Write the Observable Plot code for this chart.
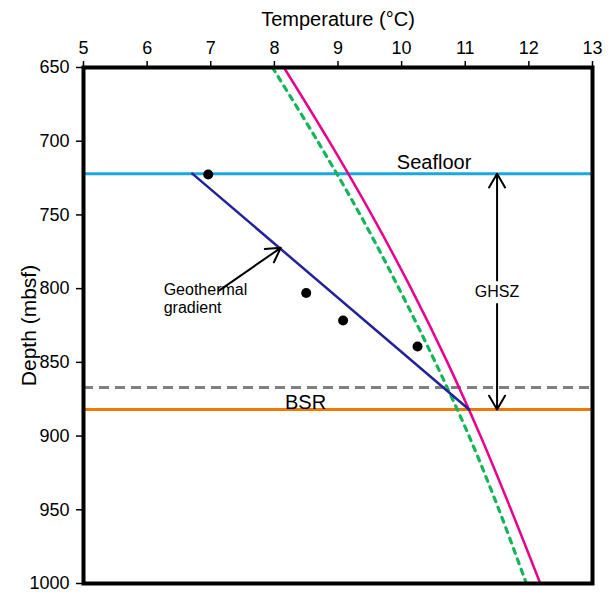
<!DOCTYPE html>
<html>
<head>
<meta charset="utf-8">
<script src="https://cdn.jsdelivr.net/npm/d3@7"></script>
<script src="https://cdn.jsdelivr.net/npm/@observablehq/plot@0.6"></script>
<style>
  html, body { margin: 0; padding: 0; background: #fff; }
  #chart svg { display: block; }
</style>
</head>
<body>
<div id="chart"></div>
<script>
// ---- data ----
const tempTicks = [5, 6, 7, 8, 9, 10, 11, 12, 13];
const depthTicks = [650, 700, 750, 800, 850, 900, 950, 1000];

// measured temperatures (black dots)
const measuredTemp = [6.96, 8.50, 9.08, 10.25];
const measuredDepth = [722.6, 802.9, 821.6, 839.3];

// geothermal gradient (navy line)
const gradientTemp = [6.71, 11.06];
const gradientDepth = [722, 882];

// stability curves (read every 50 m)
const curveDepth = [650, 700, 750, 800, 850, 900, 950, 1000];
const curveMagenta = [8.15, 8.86, 9.53, 10.15, 10.72, 11.24, 11.72, 12.18];
const curveGreen = [7.97, 8.68, 9.35, 9.96, 10.53, 11.06, 11.53, 11.96];

// horizontal reference depths
const seafloorDepth = 722;
const bsrDepth = 882;
const dashedDepth = 867;

// ---- tables ----
const dots = measuredTemp.map((t, i) => ({t, d: measuredDepth[i]}));
const gradient = gradientTemp.map((t, i) => ({t, d: gradientDepth[i]}));
const magenta = curveDepth.map((d, i) => ({t: curveMagenta[i], d}));
const green = curveDepth.map((d, i) => ({t: curveGreen[i], d}));

const font = "'Liberation Sans', Arial, Helvetica, sans-serif";

const chart = Plot.plot({
  width: 608,
  height: 592,
  marginLeft: 83,
  marginRight: 16,
  marginTop: 67,
  marginBottom: 9,
  style: {fontFamily: font, fontSize: "18px", color: "black", background: "white", overflow: "visible"},
  x: {domain: [5, 13]},
  y: {domain: [650, 1000], reverse: true},
  marks: [
    Plot.ruleY([seafloorDepth], {stroke: "#1ba8dc", strokeWidth: 3}),
    Plot.ruleY([dashedDepth], {stroke: "#808080", strokeWidth: 3, strokeDasharray: "10,6"}),
    Plot.ruleY([bsrDepth], {stroke: "#f07800", strokeWidth: 3}),
    Plot.line(green, {x: "t", y: "d", curve: "catmull-rom", stroke: "#14b45a", strokeWidth: 3.2, strokeDasharray: "5,6"}),
    Plot.line(magenta, {x: "t", y: "d", curve: "catmull-rom", stroke: "#e8008c", strokeWidth: 2.5}),
    Plot.line(gradient, {x: "t", y: "d", stroke: "#22229a", strokeWidth: 2.5}),
    Plot.dot(dots, {x: "t", y: "d", r: 5, fill: "black", stroke: "none"}),
    Plot.text(["Seafloor"], {x: 10.51, y: seafloorDepth, dy: -5, lineAnchor: "bottom", textAnchor: "middle", fontSize: 20}),
    Plot.text(["BSR"], {x: 8.49, y: bsrDepth, dy: -1, lineAnchor: "bottom", textAnchor: "middle", fontSize: 20}),
    Plot.text(["GHSZ"], {x: 11.5, y: 802.5, textAnchor: "middle", fontSize: 16}),
    Plot.text(["Geothermal\ngradient"], {x: 6.26, y: 795.5, lineAnchor: "top", textAnchor: "start", fontSize: 16, lineHeight: 1.15}),
    Plot.arrow([0], {x1: 11.5, y1: 794.5, x2: 11.5, y2: seafloorDepth, stroke: "black", strokeWidth: 2, headLength: 12, insetEnd: 0}),
    Plot.arrow([0], {x1: 11.5, y1: 810.5, x2: 11.5, y2: bsrDepth, stroke: "black", strokeWidth: 2, headLength: 12, insetEnd: 0}),
    Plot.arrow([0], {x1: 7.13, y1: 801.3, x2: 8.10, y2: 772.3, stroke: "black", strokeWidth: 2, headLength: 12, insetEnd: 0}),
    Plot.frame({stroke: "black", strokeWidth: 4}),
    Plot.axisX({anchor: "top", ticks: tempTicks, tickSize: 7, tickPadding: 7, tickFormat: "d", strokeWidth: 1.5,
      label: "Temperature (°C)", labelAnchor: "center", labelArrow: "none", labelOffset: 56, fontSize: 18}),
    Plot.axisY({anchor: "left", ticks: depthTicks, tickSize: 7, tickPadding: 7, tickFormat: "d", strokeWidth: 1.5,
      label: "Depth (mbsf)", labelAnchor: "center", labelArrow: "none", labelOffset: 62, fontSize: 18})
  ]
});

document.getElementById("chart").appendChild(chart);
// enlarge axis titles
chart.querySelectorAll("g[aria-label='x-axis label'] text, g[aria-label='y-axis label'] text").forEach(t => {
  t.setAttribute("font-size", t.closest("g[aria-label='y-axis label']") ? 21 : 20);
});
</script>
</body>
</html>
